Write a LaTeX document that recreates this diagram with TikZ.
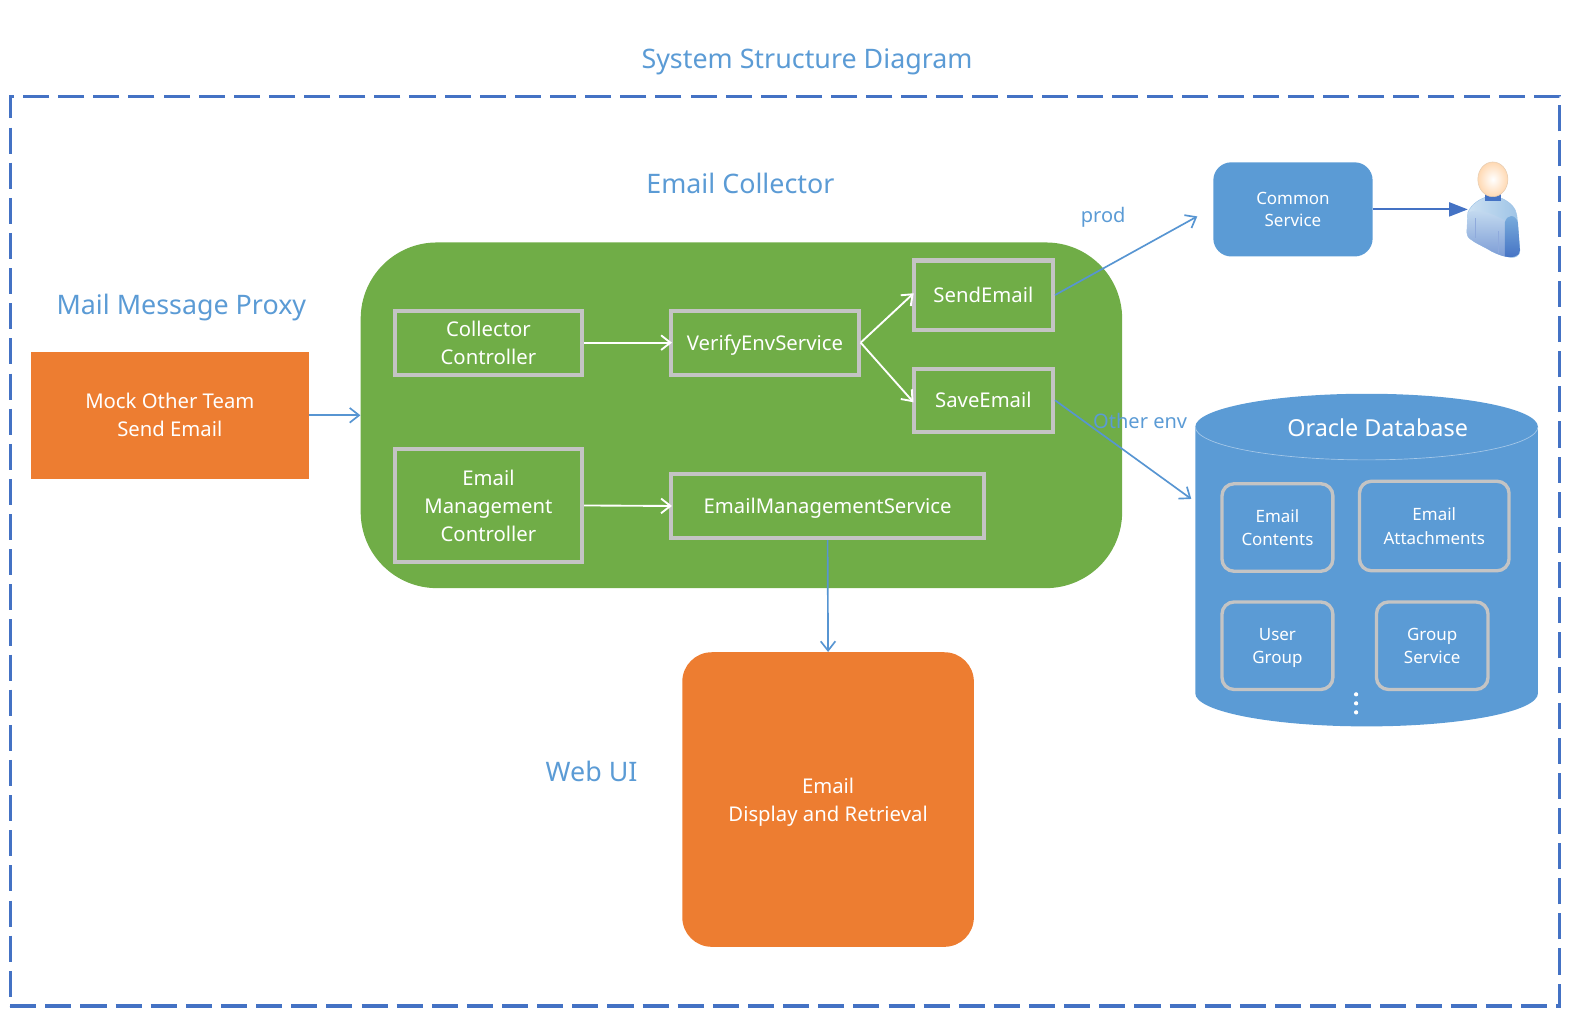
\documentclass[tikz,border=0pt]{standalone}
\usepackage{fontspec}
\setmainfont{Noto Sans}
\usepackage{tikz}
\usetikzlibrary{arrows.meta,positioning,shapes.geometric}
\definecolor{dashblue}{HTML}{4472C4}
\definecolor{lightblue}{HTML}{5B9BD5}
\definecolor{boxorange}{HTML}{ED7D31}
\definecolor{boxgreen}{HTML}{70AD47}
\definecolor{boxgray}{HTML}{C4C4C4}
\newcommand{\fsize}[2]{\fontsize{#1}{#2}\selectfont}

\begin{document}
\begin{tikzpicture}[
    x = 0.75pt,
    y = -0.75pt,
    heading/.style =
    { text       = lightblue,
      text depth = 0pt,
      font       = \fsize{20.1}{24} },
    plain/.style =
    { text       = lightblue,
      text depth = 0pt,
      font       = \fsize{15}{20} },
    filled/.style =
    { align = center,
      text  = white,
      font  = \fsize{15.2}{21} },
    service/.style =
    { filled,
      draw       = boxgray,
      line width = 3pt,
      inner sep  = 0pt },
    tablebox/.style =
    { service,
      font            = \fsize{12.7}{17.5},
      line width      = 2.5pt,
      rounded corners = 9pt },
    link/.style =
    { ->,
      >          = {Straight Barb[length=7pt, width=11pt]},
      lightblue!85!dashblue,
      line width = 1.25pt },
    inner/.style =
    { ->,
      >          = {Straight Barb[length=7pt, width=11pt]},
      white,
      shorten >  = -2pt,
      line width = 1.4pt }
  ]
  \useasboundingbox (0,0) rectangle (1568,1020);

  \node[draw = dashblue, line width = 2.4pt, dash pattern = on 19.5pt off 6.8pt,
        minimum width = 1160pt, minimum height = 681pt, inner sep = 0pt] (frame) at (783.5,550) {};

  \node[heading] (title) at (805.5,58) {System Structure Diagram};
  \node[heading] (collectortitle) at (739,183) {Email Collector};
  \node[heading] (proxytitle) at (181,304) {Mail Message Proxy};
  \node[heading] (webtitle) at (590.5,770) {Web UI};

  \node[filled, fill = boxorange, minimum width = 207.75pt, minimum height = 95.25pt] (mock) at (169.5,414.5)
    {Mock Other Team\\Send Email};

  \node[fill = boxgreen, rounded corners = 57pt, minimum width = 570pt, minimum height = 258.75pt] (collector) at (740,414.5) {};

  \node[service, minimum width = 140.25pt, minimum height = 48pt] (controller) at (487.5,342)
    {Collector\\Controller};
  \node[service, text depth = 0pt, minimum width = 140.25pt, minimum height = 48pt, right = 63.75pt of controller] (verify)
    {VerifyEnvService};
  \node[service, minimum width = 104.25pt, minimum height = 51.75pt] (send) at (981.5,294.5) {SendEmail};
  \node[service, minimum width = 104.25pt, minimum height = 47.25pt, below = 26.25pt of send] (save) {SaveEmail};
  \node[service, minimum width = 140.25pt, minimum height = 84.75pt] (mgmt) at (487.5,504.5)
    {Email\\Management\\Controller};
  \node[service, text depth = 0pt, minimum width = 234pt, minimum height = 48pt] (mgmtservice) at (826,505)
    {EmailManagementService};

  \node[filled, fill = boxorange, rounded corners = 22pt, minimum width = 218.25pt, minimum height = 220.5pt] (web) at (826.5,798)
    {Email\\\smash{Display and Retrieval}};

  \node[filled, fill = lightblue, font = \fsize{12.7}{17}, rounded corners = 13.5pt,
        minimum width = 119.25pt, minimum height = 70.5pt] (common) at (1290.5,209)
    {Common\\Service};

  % database
  \path[fill = lightblue]
    (1193,426) -- (1193,692) arc[start angle = 180, end angle = 0, x radius = 171, y radius = 33]
    -- (1535,426) arc[start angle = 0, end angle = -180, x radius = 171, y radius = 33] -- cycle;
  \draw[lightblue!55!white, line width = 0.5pt]
    (1193,426) arc[start angle = 180, end angle = 0, x radius = 171, y radius = 33];
  \node[filled, font = \fsize{17.5}{20}] (dbtitle) at (1375,427) {Oracle Database};
  \node[tablebox, minimum width = 83pt, minimum height = 65.5pt] (contents) at (1275,526.5) {Email\\Contents};
  \node[tablebox, minimum width = 112pt, minimum height = 67pt] (attachments) at (1431.5,525) {Email\\Attachments};
  \node[tablebox, minimum width = 83pt, minimum height = 65.5pt] (usergroup) at (1275,644.5) {User\\\smash{Group}};
  \node[tablebox, minimum width = 83.5pt, minimum height = 65.5pt] (groupservice) at (1429.5,644.5) {Group\\Service};
  \foreach \y/\name in {693/dota, 702/dotb, 711/dotc}
    \node[circle, fill = white, inner sep = 0pt, minimum size = 3.2pt] (\name) at (1353.5,\y) {};

  % person
  \coordinate (person) at (1465,209);
  \begin{scope}[shift = {(-3,0)}]
    \path[left color = lightblue!30!white, right color = lightblue!60!white, draw = lightblue!60!white, line width = 0.3pt]
      (1468,212) .. controls (1472,203) and (1480,199) .. (1485,197)
      -- (1502,198) .. controls (1511,202) and (1516,208) .. (1517,215)
      -- (1520,250) .. controls (1520,255) and (1516,257) .. (1512,257)
      .. controls (1504,256) and (1498,254) .. (1492,251)
      .. controls (1484,246) and (1476,243) .. (1471,239)
      .. controls (1468,237) and (1467,234) .. (1467,232) -- cycle;
    \path[top color = lightblue!35!white, bottom color = dashblue!70!white]
      (1468,212) -- (1467,232) .. controls (1467,234) and (1468,237) .. (1471,239)
      .. controls (1476,243) and (1484,246) .. (1492,251)
      .. controls (1498,254) and (1504,256) .. (1505,256)
      -- (1505,220) .. controls (1490,212) and (1478,208) .. cycle;
    \path[top color = lightblue!80!white, bottom color = dashblue]
      (1505,222) .. controls (1507,214) and (1515,213) .. (1518,222)
      -- (1520,250) .. controls (1520,256) and (1512,258) .. (1505,256)
      -- cycle;
    \draw[dashblue!60!white, line width = 0.3pt] (1475,218) -- (1475,238) (1498,231) -- (1498,253);
    \fill[dashblue] (1485,193) rectangle (1501,201);
    \node[ellipse, draw = brown!40!white, line width = 0.4pt, inner color = white, outer color = orange!30!white,
          minimum width = 22.5pt, minimum height = 26pt, inner sep = 0pt] (head) at (1493,179) {};
  \end{scope}

  \coordinate (prodend) at (1195,216);
  \coordinate (dbend) at (1189,498);

  \draw[inner] (controller) -- (verify);
  \draw[inner] (mgmt.east) -- (mgmtservice.west);
  \draw[inner] (verify.east) -- (send.west);
  \draw[inner] (verify.east) -- (save.west);
  \draw[link] (mock) -- (collector.west);
  \draw[link] (send.east) -- (prodend);
  \draw[link] (save.east) -- (dbend);
  \draw[link] (mgmtservice.south) -- (web.north);
  \draw[dashblue, line width = 1.5pt, -{Triangle[length=14pt, width=10.5pt]}] (common.east) -- (person);

  \node[plain] (prod) at (1101,214) {prod};
  \node[plain] (otherenv) at (1138,420) {Other env};
\end{tikzpicture}
\end{document}
